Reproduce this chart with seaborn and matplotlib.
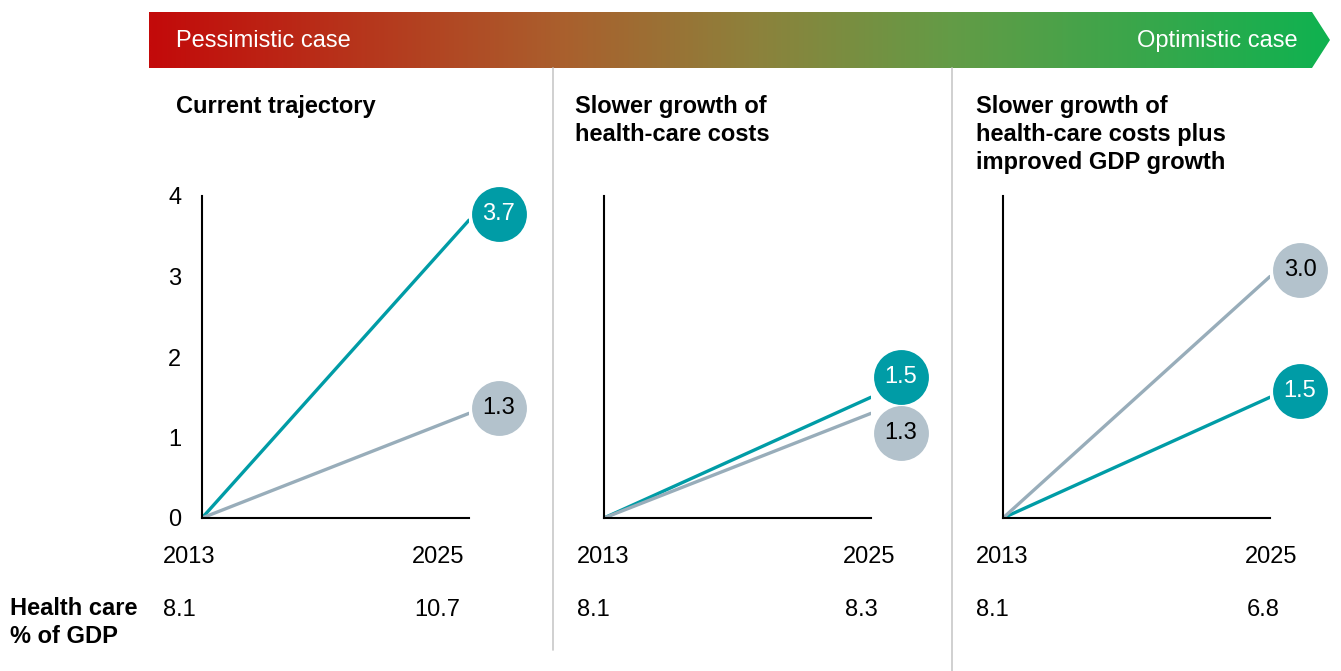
import numpy as np
import pandas as pd
import seaborn as sns
import matplotlib.pyplot as plt
from matplotlib.colors import LinearSegmentedColormap
from matplotlib.patches import Polygon
from matplotlib.transforms import offset_copy

# data
titles = ["Current trajectory",
          "Slower growth of\nhealth-care costs",
          "Slower growth of\nhealth-care costs plus\nimproved GDP growth"]
years = [2013, 2025]
health_growth = [3.7, 1.5, 1.5]   # teal line
gdp_growth = [1.3, 1.3, 3.0]      # grey line
share_2013 = [8.1, 8.1, 8.1]
share_2025 = [10.7, 8.3, 6.8]
y_ticks = [0, 1, 2, 3, 4]

rows = []
for i in range(3):
    for name, end in [("health", health_growth[i]), ("gdp", gdp_growth[i])]:
        rows.append({"panel": i, "series": name, "year": years[0], "value": 0.0})
        rows.append({"panel": i, "series": name, "year": years[1], "value": end})
df = pd.DataFrame(rows)

teal = "#009ca6"
grey_line = "#98adba"
grey_dot = "#b3c2cc"
palette = {"health": teal, "gdp": grey_line}

sns.set_theme(style="white")
plt.rcParams["font.family"] = ["Liberation Sans", "DejaVu Sans"]
plt.rcParams["text.color"] = "black"
plt.rcParams["ytick.color"] = "black"
FS = 17

W, H = 1341, 671
fig = plt.figure(figsize=(W / 100, H / 100), dpi=100)

# overlay in pixel coordinates for banner, separators and free text
ov = fig.add_axes([0, 0, 1, 1])
ov.set_axis_off()

cmap = LinearSegmentedColormap.from_list("case", [
    (0.0, (195/255, 10/255, 10/255)),
    (0.348, (170/255, 95/255, 45/255)),
    (0.517, (140/255, 130/255, 60/255)),
    (0.678, (100/255, 155/255, 70/255)),
    (1.0, (15/255, 178/255, 80/255)),
])
grad = np.linspace(0, 1, 512).reshape(1, -1)
im = ov.imshow(grad, extent=(149, 1330, 68, 12), aspect="auto", cmap=cmap)
arrow = Polygon([(149, 12), (1312, 12), (1330, 40), (1312, 68), (149, 68)],
                closed=True, facecolor="none", edgecolor="none")
ov.add_patch(arrow)
im.set_clip_path(arrow)
ov.text(176, 41, "Pessimistic case", color="white", fontsize=FS, va="center", ha="left")
ov.text(1298, 41, "Optimistic case", color="white", fontsize=FS, va="center", ha="right")

ov.plot([553, 553], [68, 650], color="#c8c8c8", lw=1.2)
ov.plot([952, 952], [68, 671], color="#c8c8c8", lw=1.2)

ov.text(10, 597, "Health care\n% of GDP", fontsize=FS, fontweight="bold",
        va="top", ha="left", linespacing=1.3)

title_x = [176, 575, 976]
year_x = [(163, 412), (577, 843), (976, 1245)]
panel_left = [202, 604, 1003]
panel_w = 267
# circle offsets (px) right/up from the line end
dot_dy = [(6, 5), (20, -20), (6, 7)]

for i in range(3):
    ov.text(title_x[i], 95, titles[i], fontsize=FS, fontweight="bold",
            va="top", ha="left", linespacing=1.28)
    ov.text(year_x[i][0], 563, str(years[0]), fontsize=FS, va="baseline")
    ov.text(year_x[i][1], 563, str(years[1]), fontsize=FS, va="baseline")
    ov.text(year_x[i][0], 616, f"{share_2013[i]:.1f}", fontsize=FS, va="baseline")
    ov.text(year_x[i][1] + 2, 616, f"{share_2025[i]:.1f}", fontsize=FS, va="baseline")

ov.set_xlim(0, W)
ov.set_ylim(H, 0)

for i in range(3):
    ax = fig.add_axes([panel_left[i] / W, 1 - 518 / H, panel_w / W, (518 - 196) / H])
    ax.set_facecolor("none")
    sub = df[df["panel"] == i]
    sns.lineplot(data=sub, x="year", y="value", hue="series", hue_order=["health", "gdp"],
                 palette=palette, linewidth=2.4, legend=False, ax=ax)
    ax.set_xlim(years[0], years[1])
    ax.set_ylim(0, 4)
    ax.set_xlabel("")
    ax.set_ylabel("")
    ax.set_xticks([])
    if i == 0:
        ax.set_yticks(y_ticks)
        ax.set_yticklabels([str(t) for t in y_ticks], fontsize=FS)
        ax.tick_params(axis="y", length=0, pad=15)
    else:
        ax.set_yticks([])
    for s in ["top", "right"]:
        ax.spines[s].set_visible(False)
    for s in ["left", "bottom"]:
        ax.spines[s].set_color("black")
        ax.spines[s].set_linewidth(1.5)

    for val, dy, face, tcol in [(health_growth[i], dot_dy[i][0], teal, "white"),
                                (gdp_growth[i], dot_dy[i][1], grey_dot, "black")]:
        tr = offset_copy(ax.transData, fig=fig, x=30, y=dy, units="dots")
        ax.plot([years[1]], [val], marker="o", markersize=39.5, color=face,
                markeredgewidth=0, transform=tr, clip_on=False, zorder=5)
        ax.text(years[1], val, f"{val:.1f}", transform=tr, color=tcol, fontsize=FS,
                ha="center", va="center", zorder=6)

fig.savefig("out.png", dpi=100)
